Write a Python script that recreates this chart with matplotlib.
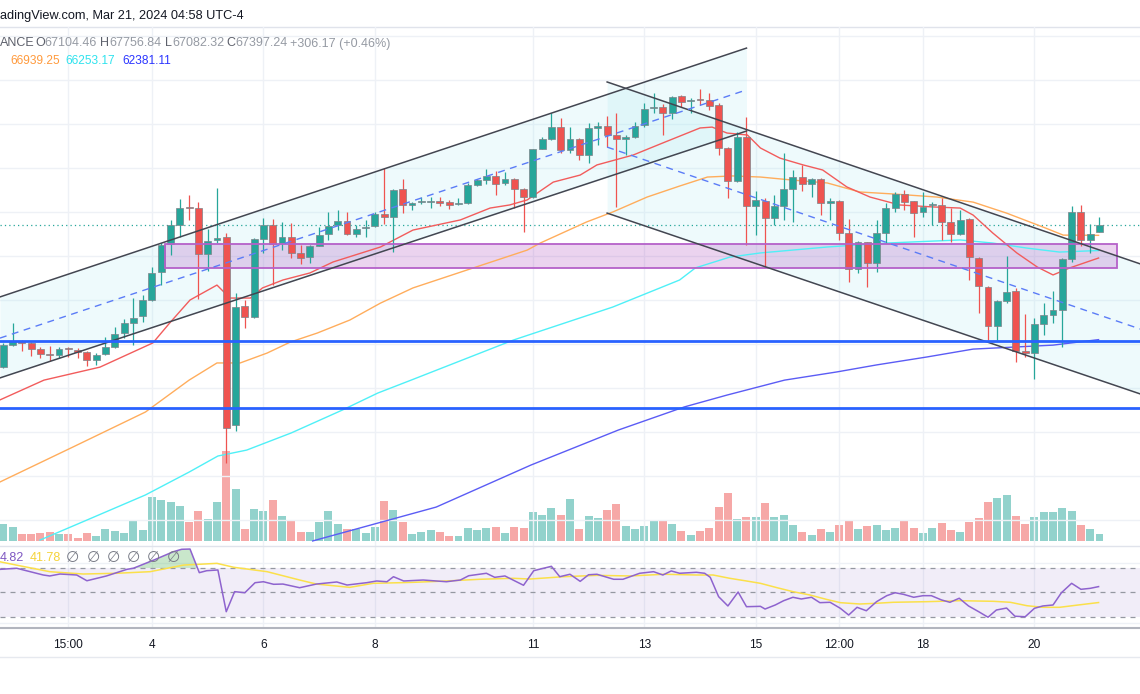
import matplotlib
matplotlib.use("Agg")
import matplotlib.pyplot as plt
from matplotlib.lines import Line2D
from matplotlib.patches import Rectangle
import numpy as np

plt.rcParams["font.family"] = ["Liberation Sans", "DejaVu Sans"]

# BTCUSDT 4h candles
opens = [60950, 61950, 62140, 62050, 61770, 61550, 61500, 61820, 61730, 61640,
         61270, 61550, 61860, 62500, 62950, 63270, 64000, 65270, 66550, 67410,
         68230, 68180, 66090, 66730, 66860, 58320, 63730, 63230, 66770, 67410,
         66590, 66860, 66140, 65950, 66460, 67000, 67410, 67590, 67000, 67270,
         67360, 67910, 67770, 69050, 68320, 68450, 68450, 68500, 68450, 68360,
         68410, 69230, 69450, 69640, 69320, 69500, 69050, 68680, 70860, 71320,
         71860, 70820, 71320, 70590, 71820, 71910, 71500, 71320, 71410, 71950,
         72730, 72770, 72500, 73270, 73050, 73140, 73090, 72860, 70910, 69410,
         71410, 68270, 68500, 67730, 68270, 69050, 69590, 69270, 69500, 68410,
         68500, 67050, 65410, 66640, 65680, 67050, 68180, 68820, 68500, 68000,
         68320, 68320, 67550, 67000, 67680, 65910, 64590, 62820, 63950, 64410,
         61680, 61590, 62910, 63320, 63550, 65860, 68000, 66730, 67104]
highs = [62050, 62950, 62180, 62090, 61860, 61910, 61860, 61860, 61820, 61680,
         61590, 62320, 62770, 63140, 64090, 64230, 65500, 66590, 67640, 68590,
         68770, 68450, 67230, 69090, 67050, 64320, 64000, 66820, 67730, 67680,
         67550, 67500, 66500, 66500, 67320, 68000, 68090, 68000, 67410, 67640,
         68000, 70000, 69050, 69500, 68450, 68680, 68680, 68680, 68550, 68640,
         69320, 69500, 69950, 69860, 69820, 69550, 69090, 70860, 71410, 72500,
         72270, 71860, 71360, 72050, 72090, 72360, 72500, 71500, 72090, 72950,
         73410, 72910, 73270, 73320, 73180, 73590, 73410, 72950, 70950, 71640,
         72320, 68950, 68640, 68770, 70680, 69910, 70140, 69550, 69550, 68640,
         68550, 67680, 66680, 66640, 67640, 68410, 68910, 69000, 68500, 68910,
         68450, 68640, 68180, 68090, 67730, 65950, 64640, 64000, 66000, 64550,
         63360, 63180, 63860, 64410, 65910, 68270, 68320, 67460, 67757]
lows = [60910, 61910, 61680, 61460, 61360, 61230, 61360, 61410, 61360, 61000,
        61050, 61500, 61820, 62270, 61950, 63000, 63950, 64680, 66050, 66860,
        67640, 64050, 65320, 66590, 56590, 58050, 62730, 63180, 66140, 64680,
        66270, 65910, 65640, 65680, 66460, 66730, 67180, 66950, 66860, 66860,
        67320, 67460, 66180, 67950, 68090, 68360, 68180, 68270, 68140, 68320,
        68360, 69180, 69270, 68770, 69230, 68180, 67090, 68640, 70860, 71270,
        70680, 70680, 70360, 70230, 71050, 70950, 68230, 70590, 71360, 71860,
        72500, 71500, 72230, 72770, 72500, 72860, 72640, 70590, 68640, 69360,
        66500, 66950, 65500, 67410, 67640, 67550, 68950, 68680, 67860, 67640,
        66730, 64820, 65230, 64590, 65270, 66590, 68000, 68090, 66860, 67770,
        67410, 66730, 66640, 66950, 64910, 63410, 62180, 62180, 63860, 61180,
        61410, 60410, 62410, 62950, 61860, 65730, 66460, 66140, 67082]
closes = [61950, 62140, 62050, 61770, 61550, 61500, 61770, 61770, 61640, 61270,
          61500, 61860, 62460, 62950, 63180, 64000, 65230, 66500, 67410, 68180,
          68180, 66090, 66680, 66820, 58180, 63680, 63230, 66770, 67410, 66550,
          66860, 66140, 65910, 66460, 66950, 67360, 67590, 67000, 67230, 67320,
          67910, 67770, 69000, 68320, 68410, 68500, 68500, 68410, 68320, 68410,
          69230, 69450, 69640, 69270, 69500, 69050, 68680, 70860, 71320, 71860,
          70820, 71320, 70590, 71820, 71910, 71500, 71320, 71410, 71910, 72680,
          72770, 72500, 73230, 73000, 73090, 73090, 72820, 70910, 69410, 71410,
          68270, 68550, 67730, 68270, 69050, 69590, 69270, 69500, 68410, 68500,
          67050, 65410, 66640, 65680, 67050, 68180, 68820, 68450, 67950, 68230,
          68360, 67550, 67000, 67640, 65950, 64640, 62820, 63950, 64360, 61680,
          61590, 62910, 63320, 63550, 65860, 68000, 66730, 67000, 67397]
volumes = [17, 14, 7, 7, 8, 9, 7, 7, 3, 8, 5, 12, 10, 8, 20, 11, 44, 41, 39, 35,
           19, 30, 22, 39, 90, 52, 12, 32, 30, 41, 25, 20, 9, 9, 19, 30, 17, 12, 12, 8,
           14, 40, 31, 19, 7, 9, 11, 9, 5, 5, 13, 11, 13, 14, 8, 14, 13, 29, 26, 33,
           26, 42, 12, 25, 23, 31, 37, 15, 12, 15, 21, 20, 17, 10, 6, 10, 13, 34, 48, 22,
           24, 24, 38, 24, 26, 16, 9, 6, 12, 9, 16, 21, 12, 15, 16, 11, 13, 20, 13, 8,
           13, 18, 11, 9, 19, 23, 39, 43, 46, 25, 17, 24, 29, 29, 33, 30, 16, 12, 7]

# moving averages, read at points along each line (x in candle index)
red_ma_x = [-0.36, 4.38, 10.4, 16.1, 17.9, 20.1, 23.0, 24.4, 26.6, 27.9, 30.1, 33.0,
            35.5, 40.6, 44.1, 49.2, 52.4, 54.5, 56.4, 59.2, 62.1, 63.9, 67.8, 71.0,
            75.0, 76.3, 77.9, 80.1, 81.5, 83.6, 86.1, 88.2, 90.8, 93.3, 96.5, 100.1,
            103.0, 104.4, 106.5, 109.1, 111.3, 113.0, 114.8, 117.9]
red_ma = [59460, 60360, 60950, 62050, 62950, 64000, 64680, 64090, 64090, 64550, 64910,
          65230, 65730, 66410, 67180, 67640, 68180, 68320, 68550, 69360, 69680, 70140,
          70590, 71140, 71820, 71860, 71590, 71500, 70910, 70450, 70140, 69910, 69140,
          68680, 68320, 68230, 68180, 67860, 67050, 66140, 65500, 65140, 65460, 65910]
orange_ma_x = [-0.36, 7.5, 15.3, 20.0, 23.0, 25.5, 28.4, 30.9, 33.8, 37.3, 40.6, 44.1,
               50.6, 56.4, 57.8, 62.8, 65.6, 69.3, 72.8, 75.8, 78.5, 81.5, 85.0, 88.7,
               92.2, 95.8, 100.5, 104.4, 108.0, 111.9, 114.1, 117.9]
orange_ma = [55730, 57320, 58910, 60360, 61140, 61140, 61590, 62090, 62500, 63090,
             63860, 64550, 65460, 66270, 66590, 67550, 68000, 68680, 69180, 69590,
             69640, 69590, 69450, 69320, 68910, 68820, 68680, 68450, 67950, 67320,
             66950, 66940]
cyan_ma_x = [3.95, 9.0, 15.3, 20.0, 23.1, 26.2, 31.0, 36.5, 40.3, 43.9, 54.9, 65.6,
             72.8, 74.5, 78.2, 81.5, 88.7, 95.1, 103.0, 106.5, 110.2, 113.7, 117.9]
cyan_ma = [53090, 54000, 55140, 56180, 56910, 57180, 57960, 59000, 59770, 60360, 62180,
           63680, 64910, 65460, 65950, 66140, 66410, 66590, 66730, 66590, 66360, 66180,
           66250]
blue_ma_x = [33.3, 46.6, 56.8, 66.2, 73.3, 77.9, 84.1, 89.7, 94.0, 99.4, 104.4, 108.7,
             113.0, 117.9]
blue_ma = [53050, 54590, 56500, 58090, 59140, 59680, 60360, 60730, 61050, 61410, 61770,
           61860, 61950, 62200]

# drawings: two channels, a zone, two horizontal levels
asc_x = [-0.36, 80.0]
asc_upper = [64140, 75450]
asc_mid = [62270, 73550]
asc_lower = [60460, 71680]
desc_x = [65.0, 122.4]
desc_upper = [73910, 65640]
desc_mid = [70950, 62680]
desc_lower = [67950, 59730]
zone_x = [17.4, 119.9]
zone_price = [65450, 66550]
levels = [62150, 59080]
last_price = 67397

# RSI (purple) and its moving average (yellow)
rsi_x = [-0.36, 1.44, 4.3, 5.0, 6.1, 7.9, 9.0, 11.1, 13.3, 14.0,
         16.2, 18.3, 19.2, 20.1, 21.1, 21.9, 23.1, 24.0, 24.9, 26.0,
         27.1, 28.0, 29.1, 30.1, 31.9, 33.7, 35.9, 37.0, 39.1, 40.2,
         41.3, 42.0, 43.1, 45.2, 47.7, 49.2, 50.1, 52.0, 52.9, 54.0,
         56.0, 57.1, 59.0, 59.9, 61.0, 62.1, 63.0, 63.9, 65.7, 66.7,
         68.5, 70.0, 71.0, 71.9, 72.8, 74.6, 75.5, 76.1, 77.0, 78.0,
         79.1, 80.0, 81.5, 82.0, 83.1, 84.0, 85.0, 85.9, 87.0, 87.9,
         89.0, 90.1, 91.0, 91.9, 92.9, 94.0, 95.1, 96.0, 96.9, 98.0,
         99.0, 99.9, 101.0, 101.9, 102.9, 103.9, 105.0, 106.0, 106.9, 108.0,
         108.9, 110.0, 111.0, 111.9, 113.0, 113.9, 115.0, 116.0, 117.0, 117.9]
rsi = [68.9, 69.8, 64.3, 63.5, 65.1, 64.3, 59.6, 63.5, 68.9, 69.8,
       76.5, 83.3, 85.3, 85.5, 66.2, 67.8, 68.4, 34.3, 50.7, 49.8,
       58.0, 58.8, 56.7, 56.9, 53.9, 56.9, 58.6, 56.1, 58.0, 59.4,
       58.8, 62.9, 59.4, 60.2, 58.8, 60.2, 63.7, 65.7, 62.4, 63.5,
       55.9, 67.8, 71.4, 62.9, 64.9, 59.1, 64.5, 64.9, 60.8, 60.8,
       65.7, 67.0, 64.3, 67.6, 65.7, 66.5, 65.7, 62.4, 46.6, 39.0,
       50.4, 38.4, 38.7, 36.5, 39.8, 43.3, 46.1, 44.7, 46.1, 41.7,
       42.0, 37.1, 31.6, 37.9, 35.1, 42.5, 47.4, 49.8, 48.5, 46.1,
       47.4, 47.4, 43.9, 42.0, 45.3, 39.0, 34.3, 29.8, 35.7, 37.3,
       30.6, 30.2, 37.1, 39.0, 39.8, 49.8, 57.5, 52.6, 53.4, 54.8]
rsi_ma_x = [-0.36, 1.4, 5.0, 8.6, 12.2, 15.8, 19.4, 23.0, 24.8, 28.4,
            31.9, 33.7, 37.3, 39.8, 42.7, 44.1, 47.7, 51.3, 54.9, 56.7,
            60.3, 63.9, 67.5, 71.1, 74.6, 76.4, 78.2, 80.0, 81.5, 83.3,
            85.0, 86.8, 88.6, 90.1, 92.2, 94.0, 95.8, 99.4, 103.0, 106.6,
            108.4, 110.2, 111.9, 113.7, 115.5, 117.9]
rsi_ma = [75.1, 72.4, 67.0, 65.1, 65.7, 67.0, 72.4, 73.8, 70.6, 67.0,
          60.2, 56.9, 54.2, 57.5, 58.0, 58.3, 59.4, 60.8, 61.6, 61.0,
          62.9, 64.0, 63.5, 64.9, 64.3, 64.3, 61.6, 59.4, 57.5, 53.9,
          50.7, 48.0, 44.4, 41.7, 40.6, 41.2, 42.0, 42.5, 43.3, 42.8,
          42.0, 39.2, 37.9, 37.9, 39.6, 41.8]

tick_pos = [7, 16, 28, 40, 57, 69, 81, 90, 99, 111]
tick_labels = ["15:00", "4", "6", "8", "11", "13", "15", "12:00", "18", "20"]

GREEN = "#26a69a"
RED = "#ef5350"
GRID = "#eef1f6"

W, H = 1140, 694
fig = plt.figure(figsize=(W / 100, H / 100), dpi=100)
fig.patch.set_facecolor("white")


def fy(y):
    return 1 - y / H


ax = fig.add_axes([0, fy(545), 1, (545 - 27) / H])
ax_rsi = fig.add_axes([0, fy(628), 1, (628 - 545) / H], sharex=ax)
ax_vol = ax.twinx()
ax.set_zorder(2)
ax_vol.set_zorder(1)
ax.patch.set_visible(False)

ax.set_xlim(-0.355, 122.36)
ax.set_ylim(52866, 76409)
ax_vol.set_ylim(-4, 514)
ax_rsi.set_ylim(21.0, 88.8)

for a in (ax, ax_vol, ax_rsi):
    for s in a.spines.values():
        s.set_visible(False)
ax_rsi.spines["bottom"].set_visible(True)
ax_rsi.spines["bottom"].set_color("#b2b5be")
ax_rsi.spines["bottom"].set_linewidth(1.5)

ax_rsi.set_xticks(tick_pos)
ax_rsi.set_xticklabels(tick_labels, fontsize=8.6, color="#131722")
ax_rsi.tick_params(axis="x", length=0, pad=8)
ax.tick_params(left=False, labelleft=False, bottom=False, labelbottom=False,
               right=False, labelright=False)
ax_vol.tick_params(left=False, labelleft=False, right=False, labelright=False,
                   bottom=False, labelbottom=False)
ax_rsi.tick_params(axis="y", left=False, labelleft=False)

ax.set_yticks(np.arange(54000, 77000, 2000))
ax.grid(True, color=GRID, lw=1.0, zorder=0)
ax.set_axisbelow(True)
ax_rsi.set_yticks([25, 74])
ax_rsi.grid(True, color=GRID, lw=1.0)
ax_rsi.set_axisbelow(True)

idx = np.arange(len(opens))
o = np.array(opens, dtype=float)
h = np.array(highs, dtype=float)
l = np.array(lows, dtype=float)
c = np.array(closes, dtype=float)
up = c >= o
colors = np.where(up, GREEN, RED)

# volume
ax_vol.bar(idx, volumes, width=0.86, color=colors, alpha=0.5, linewidth=0)

# channels
ax.fill_between(asc_x, asc_lower, asc_upper, color="#b2ebf2", alpha=0.22, lw=0, zorder=1)
ax.fill_between(desc_x, desc_lower, desc_upper, color="#b2ebf2", alpha=0.22, lw=0, zorder=1)
ax.add_patch(Rectangle((zone_x[0], zone_price[0]), zone_x[1] - zone_x[0],
                       zone_price[1] - zone_price[0], facecolor="#9c27b0", alpha=0.2,
                       edgecolor="none", zorder=1.5))
ax.add_patch(Rectangle((zone_x[0], zone_price[0]), zone_x[1] - zone_x[0],
                       zone_price[1] - zone_price[0], facecolor="none",
                       edgecolor="#b561c9", lw=1.3, zorder=6))

ax.axhline(last_price, color=GREEN, lw=0.9, ls=(0, (1, 2.5)), zorder=2)

# moving averages
ax.plot(blue_ma_x, blue_ma, color="#5b5cf5", lw=1.0, zorder=3)
ax.plot(cyan_ma_x, cyan_ma, color="#4ff0f7", lw=1.0, zorder=3)
ax.plot(orange_ma_x, orange_ma, color="#ffad5c", lw=1.0, zorder=3)
ax.plot(red_ma_x, red_ma, color="#f25c5c", lw=1.0, zorder=3)

# candles
ax.vlines(idx, l, h, colors=colors, lw=0.9, zorder=4)
body_h = np.maximum(np.abs(c - o), 45)
body_lo = np.where(np.abs(c - o) < 45, (o + c) / 2 - 22, np.minimum(o, c))
ax.bar(idx, body_h, bottom=body_lo, width=0.74, color=colors, edgecolor="#7d8288",
       linewidth=0.5, zorder=5)

# drawings over candles
for ys in (asc_upper, asc_lower):
    ax.plot(asc_x, ys, color="#434651", lw=1.1, zorder=6)
for ys in (desc_upper, desc_lower):
    ax.plot(desc_x, ys, color="#434651", lw=1.1, zorder=6)
ax.plot(asc_x, asc_mid, color="#5b7cf7", lw=1.0, ls=(0, (5, 4)), zorder=6)
ax.plot(desc_x, desc_mid, color="#5b7cf7", lw=1.0, ls=(0, (5, 4)), zorder=6)
for lv in levels:
    ax.axhline(lv, color="#2962ff", lw=2.0, zorder=6)

# RSI pane
ax_rsi.axhspan(30, 70, color="#7e57c2", alpha=0.1, lw=0)
for lv in (70, 50, 30):
    ax_rsi.axhline(lv, color="#9598a1", lw=0.9, ls=(0, (4, 4)))
rx = np.array(rsi_x)
rv = np.array(rsi)
ax_rsi.fill_between(rx, 70, rv, where=rv > 70, interpolate=True, color="#66bb6a",
                    alpha=0.35, lw=0)
ax_rsi.plot(rsi_ma_x, rsi_ma, color="#fbe04a", lw=1.1)
ax_rsi.plot(rx, rv, color="#8e63ce", lw=1.1)

# figure-level lines
fig.add_artist(Line2D([0, 1], [fy(27), fy(27)], color="#e0e3eb", lw=1.0))
fig.add_artist(Line2D([0, 1], [fy(545.5), fy(545.5)], color="#e0e3eb", lw=1.0))
fig.add_artist(Line2D([0, 1], [fy(657), fy(657)], color="#e6e9ef", lw=1.0))

# header texts
fig.text(0, fy(16), "adingView.com, Mar 21, 2024 04:58 UTC-4", fontsize=9.2,
         color="#131722", va="center", ha="left")
LBL = "#5d606b"
VAL = "#959aa3"
fig.text(0 / W, fy(43.5), "ANCE", fontsize=9, color=LBL, va="center")
for lx, letter, vx, val in [(35, "O", 44, "67104.46"), (100, "H", 109, "67756.84"),
                            (165, "L", 172, "67082.32"), (226, "C", 235, "67397.24")]:
    fig.text(lx / W, fy(43.5), letter, fontsize=9, color=LBL, va="center")
    fig.text(vx / W, fy(43.5), val, fontsize=9, color=VAL, va="center")
fig.text(290 / W, fy(43.5), "+306.17 (+0.46%)", fontsize=9, color=VAL, va="center")
fig.text(10 / W, fy(61.5), "66939.25", fontsize=8.6, color="#ff9a3c", va="center")
fig.text(65 / W, fy(61.5), "66253.17", fontsize=8.6, color="#2fe3ee", va="center")
fig.text(122 / W, fy(61.5), "62381.11", fontsize=8.6, color="#2b35ff", va="center")

fig.text(0, fy(558), "4.82", fontsize=9, color="#7e57c2", va="center")
fig.text(30 / W, fy(558), "41.78", fontsize=9, color="#f5d33a", va="center")
for sx in (72, 93, 113, 133, 153, 173):
    fig.text(sx / W, fy(558), "\u2205", fontsize=11, color="#787b86", va="center",
             ha="center")

fig.savefig("out.png", dpi=100, facecolor="white")
